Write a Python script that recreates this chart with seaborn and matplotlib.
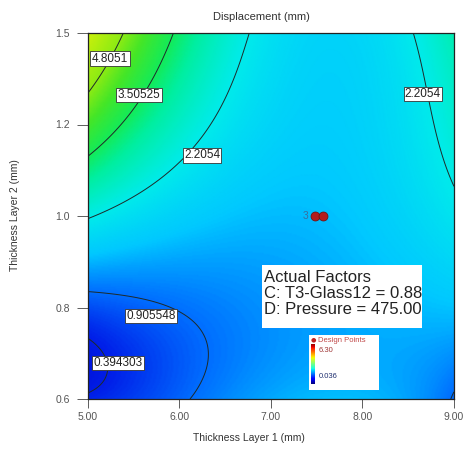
import numpy as np
import matplotlib
matplotlib.use("Agg")
import matplotlib.pyplot as plt
from matplotlib.colors import LinearSegmentedColormap
from matplotlib.patches import Rectangle
import seaborn as sns

# Response surface for Displacement (mm), in coded units
# u = (Layer1 - 7) / 2, v = (Layer2 - 1) / 0.4 ; term = coef * u**pu * v**pv
term_pu = [0, 1, 0, 2, 1, 0, 3, 2, 1, 0, 0, 1]
term_pv = [0, 0, 1, 0, 1, 2, 0, 1, 2, 3, 4, 3]
term_coef = [1.425, -0.126, 0.680, 0.735, -1.377, 0.046, 0.029, 1.654, -0.541,
             -0.402, 0.234, 0.455]
# low-Layer-2 edge adjustment: cubic in u, fading with ((1 - v) / 2) ** edge_decay
edge_coef = [-0.127, 0.45, 0.279, -0.524]
edge_decay = 8

x_ticks = [5.0, 6.0, 7.0, 8.0, 9.0]
x_tick_labels = ["5.00", "6.00", "7.00", "8.00", "9.00"]
y_ticks = [0.6, 0.8, 1.0, 1.2, 1.4]
y_tick_labels = ["0.6", "0.8", "1.0", "1.2", "1.5"]

contour_levels = [0.394303, 0.905548, 2.2054, 3.50525, 4.8051]
label_levels = [4.8051, 3.50525, 2.2054, 2.2054, 0.905548, 0.394303]
label_x = [5.24, 5.557, 6.246, 8.661, 5.689, 5.328]
label_y = [1.344, 1.2645, 1.133, 1.2667, 0.7814, 0.6787]

design_x = [7.48, 7.57]
design_y = [1.0, 1.0]
design_count = "3"

factor_lines = ["Actual Factors", "C: T3-Glass12 = 0.88", "D: Pressure = 475.00"]
legend_title = "Design Points"
legend_high, legend_low = "6.30", "0.036"

color_values = [0.0, 0.4, 0.9, 1.5, 2.2, 3.0, 3.5, 4.2, 4.8, 6.0, 7.0]
color_hex = ["#0000c8", "#001ee8", "#006eff", "#00c8ff", "#00ebeb", "#00eea0",
             "#14eb5a", "#46e628", "#8ceb14", "#d2f00a", "#f0c800"]

sns.set_theme(style="white")
plt.rcParams["font.family"] = ["Liberation Sans", "DejaVu Sans"]

vmin, vmax = color_values[0], color_values[-1]
cmap = LinearSegmentedColormap.from_list(
    "resp", [((c - vmin) / (vmax - vmin), h) for c, h in zip(color_values, color_hex)])

fig = plt.figure(figsize=(4.64, 4.50), dpi=100)
ax = fig.add_axes([88/464, 51/450, 366/464, 366/450])

xs = np.linspace(5, 9, 300)
ys = np.linspace(0.6, 1.4, 300)
X, Y = np.meshgrid(xs, ys)
U = (X - 7) / 2
V = (Y - 1) / 0.4
Z = np.zeros_like(U)
for pu, pv, c in zip(term_pu, term_pv, term_coef):
    Z += c * U**pu * V**pv
edge = sum(c * U**i for i, c in enumerate(edge_coef))
Z += edge * ((1 - V) / 2) ** edge_decay

ax.pcolormesh(X, Y, Z, cmap=cmap, vmin=vmin, vmax=vmax, shading="gouraud", zorder=1)
ax.contour(X, Y, Z, levels=contour_levels, colors="#1e2a2a", linewidths=0.7, zorder=2)
for lv, lx, ly in zip(label_levels, label_x, label_y):
    ax.text(lx, ly, f"{lv:g}", ha="center", va="center", fontsize=8.5, color="#222",
            bbox=dict(boxstyle="square,pad=0.12", fc="white", ec="#333", lw=0.6), zorder=5)

sns.scatterplot(x=design_x, y=design_y, ax=ax, color="#b41c1c", s=42,
                edgecolor="#6a0e0e", linewidth=0.5, zorder=6, legend=False)
ax.text(7.38, 1.0, design_count, ha="center", va="center", fontsize=7.5,
        color="#3a6e9e", zorder=6)

ax.set_xlim(5, 9)
ax.set_ylim(0.6, 1.4)
ax.set_xticks(x_ticks, x_tick_labels)
ax.set_yticks(y_ticks, y_tick_labels)
ax.tick_params(axis="both", labelsize=7.5, labelcolor="#555", color="#444", width=0.6)
ax.tick_params(axis="y", left=True, direction="out", length=8, pad=5)
ax.tick_params(axis="x", bottom=True, direction="out", length=6.5, pad=3)
for sp in ax.spines.values():
    sp.set_color("#222")
    sp.set_linewidth(0.9)

ax.set_xlabel("Thickness Layer 1 (mm)", fontsize=7.5, color="#333")
ax.xaxis.set_label_coords(0.44, -0.093)
ax.set_ylabel("Thickness Layer 2 (mm)", fontsize=7.5, color="#333")
ax.yaxis.set_label_coords(-0.186, 0.503)
ax.text(0.475, 1.044, "Displacement (mm)", transform=ax.transAxes, ha="center",
        va="center", fontsize=8, color="#333")

# factor settings box
fig.patches.append(Rectangle((262/464, 1 - 328/450), 160/464, 63/450,
                             transform=fig.transFigure, fc="white", ec="none", zorder=7))
fig.text(264/464, 1 - 270/450, "\n".join(factor_lines), fontsize=12, va="top",
         ha="left", linespacing=1.1, color="#222", zorder=8)

# design point / colour legend
fig.patches.append(Rectangle((309/464, 1 - 390/450), 70/464, 55/450,
                             transform=fig.transFigure, fc="white", ec="none", zorder=7))
fig.text(313/464, 1 - 340/450, "\u25cf", fontsize=4.5, color="#c02020",
         ha="center", va="center", zorder=8, family="DejaVu Sans")
fig.text(318/464, 1 - 340/450, legend_title, fontsize=5.5, color="#c04848",
         ha="left", va="center", zorder=8)
cax = fig.add_axes([311/464, 1 - 384/450, 4/464, 40/450], zorder=9)
cax.imshow(np.linspace(1, 0, 64)[:, None], aspect="auto", cmap="jet")
cax.set_axis_off()
fig.text(319/464, 1 - 351/450, legend_high, fontsize=5.5, color="#a03838",
         ha="left", va="center", zorder=8)
fig.text(319/464, 1 - 376/450, legend_low, fontsize=5.5, color="#203070",
         ha="left", va="center", zorder=8)

fig.savefig("out.png", dpi=100)
